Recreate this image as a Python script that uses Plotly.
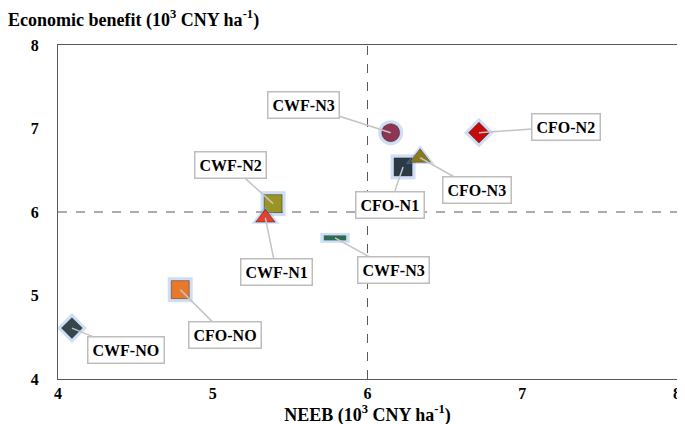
"""Scatter of NEEB vs economic benefit for the fertilizer treatments."""
import plotly.graph_objects as go

# treatment labels and values (10^3 CNY ha-1)
treatments = ['CWF-N3', 'CFO-N2', 'CFO-N1', 'CFO-N3', 'CWF-N2',
              'CWF-N1', 'CWF-N3', 'CFO-NO', 'CWF-NO']
neeb = [6.15, 6.72, 6.23, 6.34, 5.39, 5.34, 5.79, 4.79, 4.09]
economic_benefit = [6.95, 6.95, 6.54, 6.65, 6.10, 5.93, 5.69, 5.07, 4.61]
axis_ticks = [4, 5, 6, 7, 8]

# marker style per treatment
symbols = ['circle', 'diamond', 'square', 'triangle-up', 'square',
           'triangle-up', 'line-ew', 'square', 'diamond']
colors = ['#8e3552', '#c40a0a', '#2c3a46', '#8a7a1e', '#9a9424',
          '#e2412e', '#2f6a52', '#e8782a', '#36464a']
sizes = [18, 16, 18, 18, 18, 17, 16, 18, 16]

# callout offsets (pixels) from the point to the label box
label_dx = [-87, 87, -13, 57, -43, 11, 58, 45, 54]
label_dy = [-28, -6, 38, 32, -39, 54, 32, 45, 22]

font_family = 'Liberation Serif'
glow = 'rgba(120,160,225,0.35)'

fig = go.Figure()

for i, name in enumerate(treatments):
    # soft blue glow behind the marker
    if symbols[i] == 'line-ew':
        halo = dict(symbol='line-ew', size=sizes[i] + 5, line=dict(width=10, color=glow))
        marker = dict(symbol='line-ew', size=sizes[i], color=colors[i],
                      line=dict(width=5, color=colors[i]))
    else:
        halo = dict(symbol=symbols[i], size=sizes[i] + 7, color=glow, line=dict(width=0))
        marker = dict(symbol=symbols[i], size=sizes[i], color=colors[i],
                      line=dict(width=1, color='rgba(0,0,0,0.35)'))
    fig.add_trace(go.Scatter(x=[neeb[i]], y=[economic_benefit[i]], mode='markers',
                             marker=halo, hoverinfo='skip', showlegend=False))
    fig.add_trace(go.Scatter(x=[neeb[i]], y=[economic_benefit[i]], mode='markers',
                             marker=marker, name=name, showlegend=False))
    fig.add_annotation(x=neeb[i], y=economic_benefit[i], text=f'<b>{name}</b>',
                       showarrow=True, arrowhead=0, arrowwidth=1.5,
                       arrowcolor='#c4c4c4', ax=label_dx[i], ay=label_dy[i],
                       bgcolor='white', bordercolor='#bdbdbd', borderwidth=1.5,
                       borderpad=4, font=dict(size=16, color='black', family=font_family))

# quadrant guides at 6
fig.add_shape(type='line', x0=6, x1=6, y0=4, y1=8,
              line=dict(color='#595959', width=1, dash='dash'), layer='below')
fig.add_shape(type='line', x0=4, x1=8, y0=6, y1=6,
              line=dict(color='#595959', width=1, dash='dash'), layer='below')

fig.update_xaxes(range=[4, 8], tickmode='array', tickvals=axis_ticks,
                 ticktext=[f'<b>{t}</b>' for t in axis_ticks],
                 showgrid=False, zeroline=False,
                 showline=True, linecolor='#595959', linewidth=1, mirror=True,
                 ticks='', tickfont=dict(size=16, family=font_family, color='black'),
                 title=dict(text='<b>NEEB (10<sup>3</sup> CNY ha<sup>-1</sup>)</b>',
                            font=dict(size=18, family=font_family, color='black'),
                            standoff=2))
fig.update_yaxes(range=[4, 8], dtick=1, showgrid=False, zeroline=False,
                 showline=True, linecolor='#595959', linewidth=1, mirror=True,
                 ticks='', tickfont=dict(size=16, family=font_family, color='black'),
                 tickprefix='<b>', ticksuffix='</b>', ticklabelstandoff=15)

fig.add_annotation(xref='paper', yref='paper', x=-0.084, y=1.0, yshift=26,
                   xanchor='left', yanchor='middle', showarrow=False,
                   text='<b>Economic benefit (10<sup>3</sup> CNY ha<sup>-1</sup>)</b>',
                   font=dict(size=18, family=font_family, color='black'))

fig.update_layout(width=685, height=424, plot_bgcolor='white', paper_bgcolor='white',
                  margin=dict(l=50, r=14, t=37, b=53))

fig.write_html('out.html')
